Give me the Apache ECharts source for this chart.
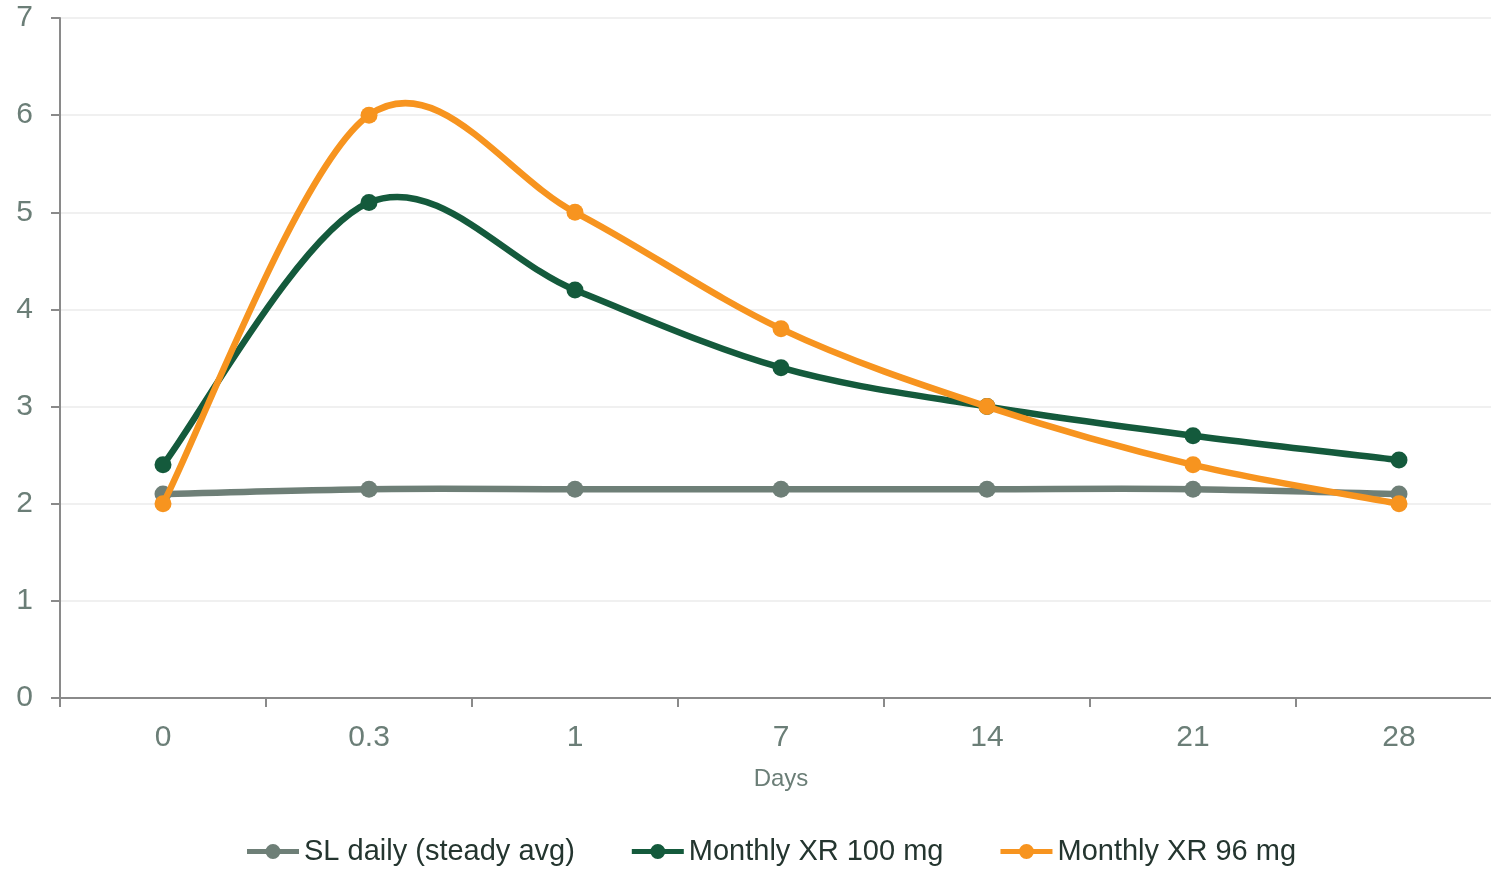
<!DOCTYPE html>
<html><head><meta charset="utf-8">
<script src="https://cdn.jsdelivr.net/npm/echarts@6/dist/echarts.min.js"></script>
<style>html,body{margin:0;padding:0;background:#fff}#c{width:1491px;height:869px}</style>
</head><body><div id="c"></div>
<script>
var categories = ['0', '0.3', '1', '7', '14', '21', '28'];
var slDaily = [2.1, 2.15, 2.15, 2.15, 2.15, 2.15, 2.1];
var xr100 = [2.4, 5.1, 4.2, 3.4, 3.0, 2.7, 2.45];
var xr96 = [2.0, 6.0, 5.0, 3.8, 3.0, 2.4, 2.0];
var seriesNames = ['SL daily (steady avg)', 'Monthly XR 100 mg', 'Monthly XR 96 mg'];
var yTicks = [0, 7, 1];

var font = '"Liberation Sans", Arial, sans-serif';
var labelColor = '#6b7e77';
var axisColor = '#8a8a8a';

function makeRender(arr, color) {
  return function (params, api) {
    var i = params.dataIndex, n = arr.length;
    var P = function (j) { j = Math.max(0, Math.min(n - 1, j)); return api.coord([j, arr[j]]); };
    var children = [];
    if (i < n - 1) {
      var p0 = P(i - 1), p1 = P(i), p2 = P(i + 1), p3 = P(i + 2);
      var c1 = [p1[0] + (p2[0] - p0[0]) / 6, p1[1] + (p2[1] - p0[1]) / 6];
      var c2 = [p2[0] - (p3[0] - p1[0]) / 6, p2[1] - (p3[1] - p1[1]) / 6];
      children.push({
        type: 'bezierCurve',
        shape: { x1: p1[0], y1: p1[1], x2: p2[0], y2: p2[1], cpx1: c1[0], cpy1: c1[1], cpx2: c2[0], cpy2: c2[1] },
        style: { stroke: color, lineWidth: 6.5, fill: null, lineCap: 'round' }
      });
    }
    var c = P(i);
    children.push({ type: 'circle', shape: { cx: c[0], cy: c[1], r: 8.5 }, style: { fill: color } });
    return { type: 'group', children: children };
  };
}
function mk(name, arr, color) {
  return {
    name: name, type: 'custom',
    data: arr.map(function (v, i) { return [i, v]; }),
    encode: { x: 0, y: 1 },
    renderItem: makeRender(arr, color),
    itemStyle: { color: color },
    emphasis: { disabled: true },
    silent: true,
    clip: false
  };
}
var chart = echarts.init(document.getElementById('c'));
chart.setOption({
  animation: false,
  textStyle: { fontFamily: font },
  grid: { left: 60, width: 1442, top: 18, height: 680, containLabel: false, outerBoundsMode: 'none' },
  legend: {
    left: 242, top: 832, itemWidth: 52, itemHeight: 15, itemGap: 57,
    icon: 'path://M0,5 L52,5 L52,10 L0,10 Z M18.5,7.5 A7.5,7.5 0 1 1 33.5,7.5 A7.5,7.5 0 1 1 18.5,7.5 Z',
    textStyle: { fontFamily: font, fontSize: 29, color: '#24352f' },
    data: seriesNames
  },
  xAxis: {
    type: 'category', data: categories, boundaryGap: true,
    name: 'Days', nameLocation: 'middle', nameGap: 69,
    nameTextStyle: { fontSize: 24, color: labelColor, fontFamily: font },
    axisLine: { lineStyle: { color: axisColor, width: 2 } },
    axisTick: { show: true, length: 9, lineStyle: { color: axisColor, width: 2 } },
    axisLabel: { fontSize: 30, color: labelColor, margin: 25, fontFamily: font }
  },
  yAxis: {
    type: 'value', min: yTicks[0], max: yTicks[1], interval: yTicks[2],
    axisLine: { show: true, lineStyle: { color: axisColor, width: 2 } },
    axisTick: { show: true, length: 9, lineStyle: { color: axisColor, width: 2 } },
    axisLabel: { fontSize: 30, color: labelColor, margin: 27, fontFamily: font },
    splitLine: { lineStyle: { color: '#ebebeb', width: 1.5 } }
  },
  series: [
    mk(seriesNames[0], slDaily, '#6e7f77'),
    mk(seriesNames[1], xr100, '#145a3c'),
    mk(seriesNames[2], xr96, '#f7941f')
  ]
});
</script></body></html>
